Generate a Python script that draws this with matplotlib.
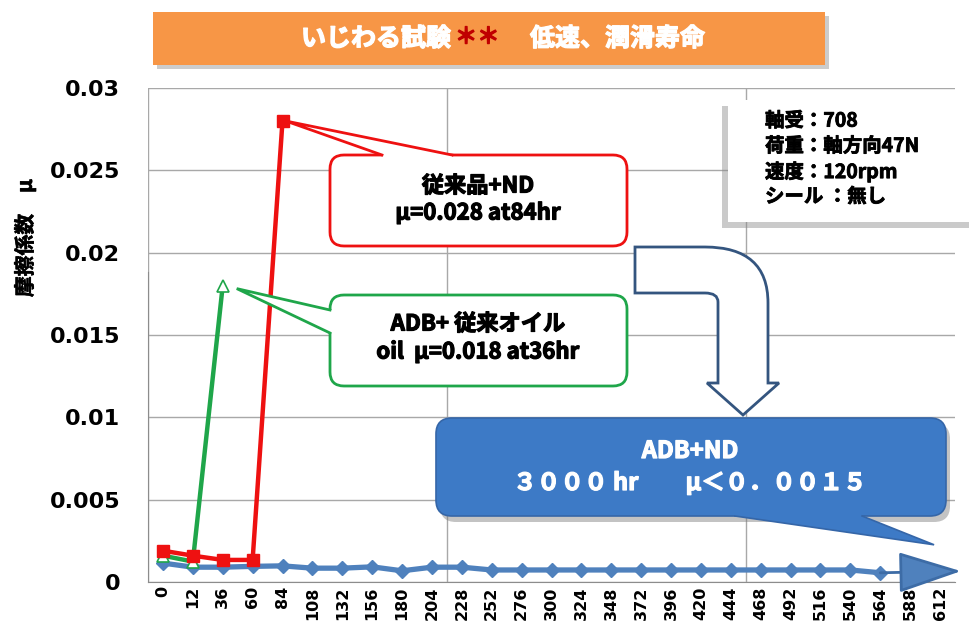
import matplotlib
matplotlib.use('Agg')
import matplotlib.pyplot as plt
import matplotlib.patheffects as pe
from matplotlib.patches import FancyBboxPatch, Polygon, PathPatch
from matplotlib.path import Path
from matplotlib.lines import Line2D
from matplotlib.transforms import IdentityTransform

W, H = 969, 623
JP = ['Noto Sans CJK JP', 'DejaVu Sans']
PIX = IdentityTransform()

# test hours (category axis)
hours = ['0', '12', '36', '60', '84', '108', '132', '156', '180', '204', '228',
         '252', '276', '300', '324', '348', '372', '396', '420', '444', '468',
         '492', '516', '540', '564', '588', '612']
# ADB+ND (blue diamonds)
adb_nd = [0.00115, 0.0009, 0.0009, 0.00095, 0.00098, 0.00084, 0.00084, 0.00092,
          0.00068, 0.0009, 0.0009, 0.00073, 0.00073, 0.00073, 0.00073, 0.00073,
          0.00073, 0.00073, 0.00073, 0.00073, 0.00073, 0.00073, 0.00073, 0.00073,
          0.00056]
# 従来品+ND (red squares)
conv_nd = [0.0019, 0.0016, 0.00134, 0.00134, 0.028]
# ADB+従来オイル (green triangles)
adb_oil = [0.0016, 0.00124, 0.018]

y_ticks = [0, 0.005, 0.01, 0.015, 0.02, 0.025, 0.03]
y_labels = ['0', '0.005', '0.01', '0.015', '0.02', '0.025', '0.03']

BLUE = '#4F81BD'
RED = '#EE1111'
GREEN = '#1FA64A'

fig = plt.figure(figsize=(W / 100, H / 100), dpi=100)
ax = fig.add_axes([148 / W, 41 / H, 807 / W, 494 / H])

x_all = list(range(len(hours)))
ax.plot(x_all[:len(adb_nd)], adb_nd, color=BLUE, lw=3.8, marker='D', ms=7,
        mfc=BLUE, mec=BLUE, zorder=3)
ax.plot(x_all[:len(adb_oil)], adb_oil, color=GREEN, lw=3.2, marker='^', ms=9,
        mfc='white', mec=GREEN, mew=1.2, zorder=4)
ax.plot(x_all[:len(conv_nd)], conv_nd, color=RED, lw=3.2, marker='s', ms=9,
        mfc=RED, mec=RED, zorder=5)

# big arrow head at the end of the ADB+ND line
last = len(adb_nd) - 1
ax.annotate('', xy=(last + 2.7, adb_nd[-1] + 0.0001), xytext=(last, adb_nd[-1]),
            arrowprops=dict(arrowstyle='-|>,head_length=2.0,head_width=0.65',
                            mutation_scale=20, lw=2, fc=BLUE, ec='#3D6CA6',
                            shrinkA=0, shrinkB=0),
            annotation_clip=False, zorder=6)

ax.set_xlim(-0.5, len(hours) - 0.5)
ax.set_ylim(0, 0.03)
ax.set_xticks(x_all)
ax.set_xticklabels(hours, rotation=90, fontsize=11.5, fontweight='bold',
                   family='DejaVu Sans')
ax.set_xticks([-0.5, 9.5, 19.5], minor=True)
ax.set_yticks(y_ticks)
ax.set_yticklabels(y_labels, fontsize=16, fontweight='bold', family='DejaVu Sans')
ax.tick_params(axis='x', which='both', length=0, pad=3)
ax.tick_params(axis='y', length=0, pad=20)
ax.grid(axis='y', color='#A8A8A8', lw=1)
ax.grid(axis='x', which='minor', color='#A8A8A8', lw=1)
ax.grid(axis='x', which='major', visible=False)
for s in ['top', 'right']:
    ax.spines[s].set_visible(False)
ax.spines['bottom'].set_color('#8C8C8C')
ax.spines['left'].set_color('#8C8C8C')
ax.spines['left'].set_bounds(0, 0.0188)


def jtext(x, y, s, size, color='black', ha='center', stroke=0.9, **kw):
    # bold Japanese text, thickened a little with a stroke
    return fig.text(x, H - y, s, fontsize=size, fontweight='bold', family=JP,
                    color=color, ha=ha, va='center', transform=PIX, zorder=10,
                    path_effects=[pe.withStroke(linewidth=stroke, foreground=color)], **kw)


jtext(25, 238, '摩擦係数　μ', 15, rotation=90, stroke=0.4)


def rect(x0, y0, x1, y1, z, **kw):
    # pixel box given with image coords (top-left origin)
    p = FancyBboxPatch((x0, H - y1), x1 - x0, y1 - y0, transform=PIX, zorder=z, **kw)
    fig.add_artist(p)
    return p


def bubble(box, base, inner, tip, ec, fc, lw, z, rs=14):
    x0, y0, x1, y1 = box
    rect(x0, y0, x1, y1, z, boxstyle=f'round,pad=0,rounding_size={rs}',
         ec=ec, fc=fc, lw=lw)
    (ax0, ay0), (ax1, ay1) = base
    dx, dy = inner
    tx, ty = tip
    pts = [(ax0 + dx, H - ay0 - dy), (ax0, H - ay0), (tx, ty), (ax1, H - ay1),
           (ax1 + dx, H - ay1 - dy)]
    fig.add_artist(Polygon(pts, closed=True, fc=fc, ec='none', transform=PIX,
                           zorder=z + 0.1))
    fig.add_artist(Line2D([ax0, tx, ax1], [H - ay0, ty, H - ay1], color=ec, lw=lw,
                          transform=PIX, zorder=z + 0.2, solid_joinstyle='miter'))


# title banner
rect(157, 16, 829, 69, 8, boxstyle='square,pad=0', fc='#9A9A9A', ec='none', alpha=0.5)
rect(153, 12, 825, 65, 9, boxstyle='square,pad=0', fc='#F79646', ec='none')
jtext(301, 39, 'いじわる試験', 18, color='white', ha='left')
jtext(455, 37, '＊＊', 16, color='#C00000', ha='left')
jtext(530, 39, '低速、潤滑寿命', 18, color='white', ha='left')

# test condition box
rect(722, 106, 975, 228, 8, boxstyle='square,pad=0', fc='#8A8A8A', ec='none', alpha=0.45)
rect(728, 100, 975, 222, 9, boxstyle='square,pad=0', fc='white', ec='none')
cond_lines = ['軸受：708', '荷重：軸方向47N', '速度：120rpm', 'シール ：無し']
for i, s in enumerate(cond_lines):
    jtext(765, 121 + 25.3 * i, s, 14, ha='left', stroke=0.6)

# red callout -> 84hr peak
tip_r = ax.transData.transform((len(conv_nd) - 1, conv_nd[-1]))
bubble((330, 155, 627, 246), ((382, 155), (452, 155)), (0, 4),
       (tip_r[0] + 3, tip_r[1]), RED, 'white', 2, 7)
jtext(478, 186, '従来品+ND', 16)
jtext(478, 213, 'μ=0.028 at84hr', 16)

# green callout -> 36hr peak
tip_g = ax.transData.transform((len(adb_oil) - 1, adb_oil[-1]))
bubble((330, 295, 627, 386), ((330, 310), (330, 333)), (4, 0),
       (tip_g[0] + 14, tip_g[1] - 3), GREEN, 'white', 2, 7)
jtext(478, 324, 'ADB+ 従来オイル', 16)
jtext(478, 352, 'oil  μ=0.018 at36hr', 16)

# bent outline arrow
verts = [(635, 247), (705, 247), (768, 247), (768, 303), (768, 383), (779, 383),
         (743, 415), (707, 383), (718, 383), (718, 302), (718, 293), (705, 293),
         (635, 293), (635, 247)]
codes = [Path.MOVETO, Path.LINETO, Path.CURVE3, Path.CURVE3, Path.LINETO, Path.LINETO,
         Path.LINETO, Path.LINETO, Path.LINETO, Path.LINETO, Path.CURVE3, Path.CURVE3,
         Path.LINETO, Path.CLOSEPOLY]
fig.add_artist(PathPatch(Path([(x, H - y) for x, y in verts], codes), fc='white',
                         ec='#34557F', lw=2, transform=PIX, zorder=8))

# blue callout -> ADB+ND
tip_b = ax.transData.transform((last + 1.8, adb_nd[-1] + 0.0017))
rect(440, 423, 950, 522, 6.5, boxstyle='round,pad=0,rounding_size=16',
     fc='#7A7A7A', ec='none', alpha=0.45)
bubble((436, 418, 946, 516), ((735, 516), (862, 516)), (0, -4),
       (tip_b[0], tip_b[1]), '#3566A8', '#3D7AC6', 1.2, 7, rs=16)
jtext(690, 451, 'ADB+ND', 17, color='white')
jtext(690, 483, '３０００ hr　　μ＜０．００１５', 17, color='white')

fig.savefig('out.png', dpi=100)
